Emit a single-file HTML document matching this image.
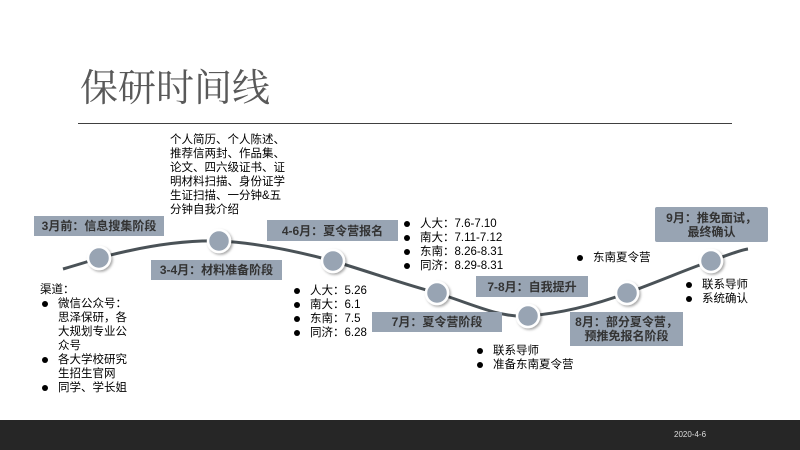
<!DOCTYPE html>
<html><head><meta charset="utf-8"><style>
body{margin:0;width:800px;height:450px;position:relative;overflow:hidden;background:#fff;font-family:"Liberation Sans","Noto Sans CJK SC",sans-serif;}
.a{position:absolute;}
.t{position:absolute;font-size:11.5px;line-height:14px;color:#000;white-space:nowrap;}
.lb{position:absolute;background:#98a4b3;color:#333;font-weight:bold;font-size:12px;line-height:14px;text-align:center;display:flex;align-items:center;justify-content:center;}
.b{position:relative;padding-left:18px;}
.b:before{content:"";position:absolute;left:2px;top:4px;width:6px;height:6px;border-radius:50%;background:#000;}
</style></head><body>
<div class="a" style="left:80px;top:62px;font-size:38px;line-height:46px;color:#595959;font-family:'Noto Serif CJK SC',serif;">保研时间线</div>
<div class="a" style="left:78px;top:123px;width:654px;height:1px;background:#404040;"></div>
<svg class="a" style="left:0;top:0" width="800" height="450">
<defs><filter id="s" x="-50%" y="-50%" width="200%" height="200%"><feDropShadow dx="1.5" dy="1.5" stdDeviation="1.2" flood-color="#000" flood-opacity="0.35"/></filter></defs>
<path d="M63,269 C80,264 90,261 99,258 C140,247 180,240 219,241 C260,243 300,252 333,261 C370,272 400,283 437,293 C475,305 500,318 528,316 C565,313 600,303 627,293 C660,281 690,268 711,261 C728,255 740,250 748,249" fill="none" stroke="#4a5257" stroke-width="3"/>
<g fill="#98a4b3" stroke="#fff" stroke-width="2.5" filter="url(#s)">
<circle cx="99" cy="258" r="11"/><circle cx="219" cy="241" r="11"/><circle cx="333" cy="261" r="11"/><circle cx="437" cy="293" r="11"/><circle cx="528" cy="316" r="11"/><circle cx="627" cy="293" r="11"/><circle cx="711" cy="261" r="11"/>
</g></svg>
<div class="lb" style="left:34px;top:216px;width:130px;height:20px;">3月前：信息搜集阶段</div>
<div class="lb" style="left:151px;top:260px;width:131px;height:20px;">3-4月：材料准备阶段</div>
<div class="lb" style="left:267px;top:220px;width:131px;height:21px;">4-6月：夏令营报名</div>
<div class="lb" style="left:372px;top:312px;width:130px;height:20px;">7月：夏令营阶段</div>
<div class="lb" style="left:476px;top:276px;width:112px;height:21px;">7-8月：自我提升</div>
<div class="lb" style="left:570px;top:312px;width:113px;height:34px;">8月：部分夏令营，<br>预推免报名阶段</div>
<div class="lb" style="left:655px;top:207px;width:113px;height:35px;border-radius:2px;">9月：推免面试，<br>最终确认</div>
<div class="t" style="left:170px;top:133px;">个人简历、个人陈述、<br>推荐信两封、作品集、<br>论文、四六级证书、证<br>明材料扫描、身份证学<br>生证扫描、一分钟&amp;五<br>分钟自我介绍</div>
<div class="t" style="left:40px;top:283px;">渠道：
<div class="b">微信公众号：<br>思泽保研，各<br>大规划专业公<br>众号</div>
<div class="b">各大学校研究<br>生招生官网</div>
<div class="b">同学、学长姐</div></div>
<div class="t" style="left:292px;top:284px;"><div class="b">人大：5.26</div><div class="b">南大：6.1</div><div class="b">东南：7.5</div><div class="b">同济：6.28</div></div>
<div class="t" style="left:402px;top:217px;"><div class="b">人大：7.6-7.10</div><div class="b">南大：7.11-7.12</div><div class="b">东南：8.26-8.31</div><div class="b">同济：8.29-8.31</div></div>
<div class="t" style="left:575px;top:251px;"><div class="b">东南夏令营</div></div>
<div class="t" style="left:684px;top:278px;"><div class="b">联系导师</div><div class="b">系统确认</div></div>
<div class="t" style="left:475px;top:344px;"><div class="b">联系导师</div><div class="b">准备东南夏令营</div></div>
<div class="a" style="left:0;top:420px;width:800px;height:30px;background:#262626;"></div>
<div class="a" style="left:674px;top:430px;font-size:8px;color:#ddd;">2020-4-6</div>
</body></html>
